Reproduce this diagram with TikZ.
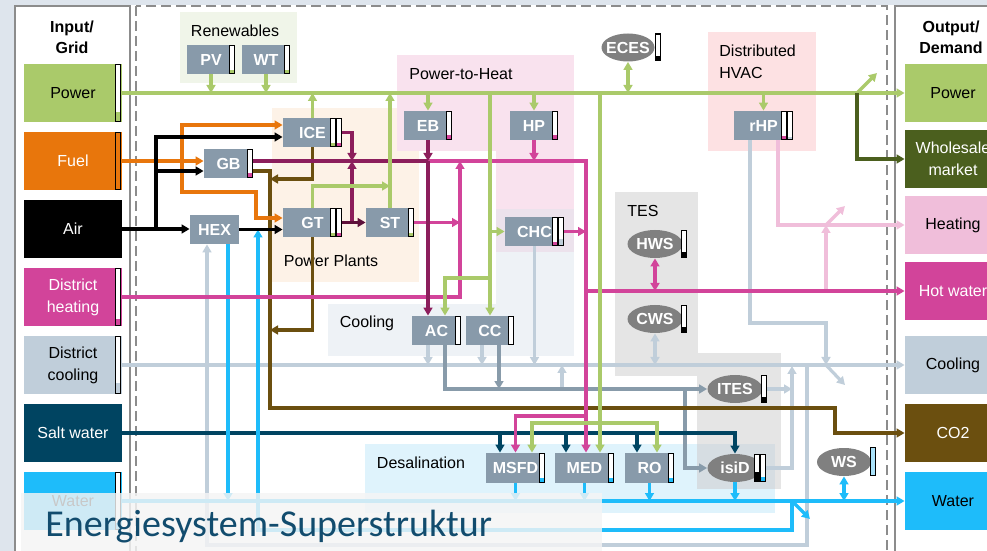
\documentclass[tikz,border=0pt]{standalone}
\usepackage{fontspec}
\setmainfont{Liberation Sans}
\newfontfamily\titlefont{Carlito}
\usetikzlibrary{arrows.meta,shapes.geometric}

\definecolor{cpage}{RGB}{222,229,237}
\definecolor{cframe}{RGB}{140,140,140}
\definecolor{cblk}{RGB}{136,154,170}
\definecolor{csto}{RGB}{128,128,128}
\definecolor{cgreen}{RGB}{170,202,106}
\definecolor{corange}{RGB}{232,118,12}
\definecolor{cmaroon}{RGB}{140,30,92}
\definecolor{cmaroond}{RGB}{94,16,58}
\definecolor{cpink}{RGB}{210,68,154}
\definecolor{clpink}{RGB}{240,190,218}
\definecolor{ccool}{RGB}{192,206,218}
\definecolor{cslate}{RGB}{136,155,170}
\definecolor{cbrown}{RGB}{107,79,15}
\definecolor{csalt}{RGB}{0,68,97}
\definecolor{cwater}{RGB}{30,188,250}
\definecolor{cwhole}{RGB}{75,95,30}
\definecolor{cwsbar}{RGB}{170,226,250}
\definecolor{ctitle}{RGB}{18,76,110}
\definecolor{grenew}{RGB}{240,245,233}
\definecolor{gplant}{RGB}{253,242,231}
\definecolor{gptoh}{RGB}{249,226,238}
\definecolor{gmix}{RGB}{236,226,236}
\definecolor{gcool}{RGB}{238,242,246}
\definecolor{gtes}{RGB}{229,229,229}
\definecolor{gdesal}{RGB}{223,243,252}
\definecolor{gover}{RGB}{214,221,226}
\definecolor{ghvac}{RGB}{253,225,227}

\tikzset{
  blk/.style={fill=cblk, text=white, inner sep=0pt, minimum height=14.5pt,
    font=\bfseries\fontsize{8}{10}\selectfont},
  sto/.style={ellipse, fill=csto, text=white, inner ysep=0pt, inner xsep=-3pt,
    minimum width=27.5pt, minimum height=14pt,
    font=\bfseries\fontsize{8}{10}\selectfont},
  lvl/.style 2 args={draw=black, line width=0.6pt, fill=white, inner sep=0pt,
    minimum width=2.4pt, minimum height=13.9pt,
    path picture={\fill[#1] (path picture bounding box.south west)
      rectangle ([yshift=#2]path picture bounding box.south east);}},
  iobox/.style={inner sep=0pt, minimum width=49pt, minimum height=29pt,
    align=center, font=\fontsize{8}{11}\selectfont},
  grplbl/.style={inner sep=0pt, font=\fontsize{8}{11}\selectfont},
  iotitle/.style={align=center, inner sep=0pt, font=\bfseries\fontsize{8}{10.5}\selectfont},
}

\begin{document}
\begin{tikzpicture}[x=0.5pt,y=-0.5pt,>={Triangle[length=4pt,width=4.4pt]}]
\useasboundingbox (0,0) rectangle (987,551);
\fill[cpage] (0,0) rectangle (987,551);
\fill[white] (14,5) rectangle (987,551);

\fill[grenew] (180,12) rectangle (297,83);
\fill[gplant] (272,108) rectangle (419,282);
\fill[gptoh] (397,55) rectangle (574,151);
\fill[gptoh] (496,151) rectangle (574,209);
\fill[gmix] (496,209) rectangle (574,252);
\fill[gcool] (496,252) rectangle (574,304);
\fill[gcool] (328,304) rectangle (574,356);
\fill[gtes] (615,192) rectangle (698,376);
\fill[gdesal] (365,444) rectangle (775,513);
\fill[gtes] (697,353) rectangle (781,444);
\fill[gover] (697,444) rectangle (775,489);
\fill[gtes] (775,444) rectangle (781,489);
\fill[ghvac] (708,32) rectangle (816,151);

\draw[cframe, line width=1pt] (15,6) rectangle (130,570);
\draw[cframe, line width=1pt] (895,6) rectangle (1010,570);
\draw[cframe, line width=1pt, dash pattern=on 5pt off 2.5pt] (136,6) rectangle (887,570);

\node[iotitle] (intitle) at (72,37) {Input/\\Grid};
\node[iotitle] (outtitle) at (951,37) {Output/\\Demand};

\begin{scope}[every node/.style={iobox}]
\node[fill=cgreen] (inpow) at (73,93) {Power};
\node[fill=corange, text=white] (infuel) at (73,161) {Fuel};
\node[fill=black, text=white] (inair) at (73,229) {Air};
\node[fill=cpink, text=white] (indh) at (73,297) {District\\heating};
\node[fill=ccool] (indc) at (73,365) {District\\cooling};
\node[fill=csalt, text=white] (insalt) at (73,433) {Salt water};
\node[fill=cwater] (inwater) at (73,501) {Water};
\end{scope}

\begin{scope}[every node/.style={iobox, minimum width=48pt}]
\node[fill=cgreen] (outpow) at (953,93) {Power};
\node[fill=cwhole, text=white] (outws) at (953,159) {Wholesale\\market};
\node[fill=clpink] (outheat) at (953,225) {Heating};
\node[fill=cpink, text=white] (outhw) at (953,291) {Hot water};
\node[fill=ccool] (outcool) at (953,365) {Cooling};
\node[fill=cbrown, text=white] (outco2) at (953,433) {CO2};
\node[fill=cwater] (outwater) at (953,501) {Water};
\end{scope}

\node[lvl={cgreen}{4.5pt}, minimum height=28.4pt] (inpowl) at (118,93) {};
\node[lvl={corange}{29pt}, minimum height=28.4pt] (infuell) at (118,161) {};
\node[lvl={cpink}{3pt}, minimum height=28.4pt] (indhl) at (118,297) {};
\node[lvl={ccool}{5pt}, minimum height=28.4pt] (indcl) at (118,365) {};
\node[lvl={cwater}{3pt}, minimum height=28.4pt] (inwaterl) at (118,501) {};

\begin{scope}[every node/.style={grplbl}]
\node (lrenew) at (235,31) {Renewables};
\node (lplant) at (331,261) {Power Plants};
\node (lptoh) at (461,74) {Power-to-Heat};
\node (lcool) at (367,323) {Cooling};
\node[anchor=west] (ltes) at (627,211) {TES};
\node (ldesal) at (421,463) {Desalination};
\node[anchor=north west, align=left] (lhvac) at (719,45) {Distributed\\HVAC};
\end{scope}

\begin{scope}[every node/.style={blk}]
\node[minimum width=24pt] (pv) at (211,59.5) {PV};
\node[minimum width=24pt] (wt) at (266,59.5) {WT};
\node[minimum width=29.5pt] (ice) at (312.5,132.5) {ICE};
\node[minimum width=29.5pt] (gt) at (312.5,222.5) {GT};
\node[minimum width=24.5pt] (gb) at (228.5,163.5) {GB};
\node[minimum width=24.5pt] (hex) at (214.5,229.5) {HEX};
\node[minimum width=24pt] (st) at (390,222.5) {ST};
\node[minimum width=24pt] (eb) at (428,125.5) {EB};
\node[minimum width=24pt] (hp) at (534,125.5) {HP};
\node[minimum width=29.5pt] (chc) at (534.5,231.5) {CHC};
\node[minimum width=24.5pt] (ac) at (436.5,330.5) {AC};
\node[minimum width=24pt] (cc) at (490,330.5) {CC};
\node[minimum width=29.5pt] (rhp) at (763.5,125.5) {rHP};
\node[minimum width=29.5pt, minimum height=15pt] (msfd) at (515.5,468) {MSFD};
\node[minimum width=29.5pt, minimum height=15pt] (med) at (584.5,468) {MED};
\node[minimum width=24.5pt, minimum height=15pt] (ro) at (649.5,468) {RO};
\end{scope}

\begin{scope}[every node/.style={sto}]
\node[minimum width=26.5pt] (eces) at (628,47.5) {ECES};
\node (hws) at (655,244) {HWS};
\node (cws) at (655,319) {CWS};
\node (ites) at (735,389) {ITES};
\node (isid) at (735,468) {isiD};
\node[minimum width=27pt] (ws) at (844,462) {WS};
\end{scope}

\node[lvl={cgreen}{1.5pt}] (pvl) at (232,59.5) {};
\node[lvl={cgreen}{1.5pt}] (wtl) at (287,59.5) {};
\node[lvl={cgreen}{1.5pt}] (icel1) at (333,132.5) {};
\node[lvl={cpink}{1.5pt}] (icel2) at (339,132.5) {};
\node[lvl={cgreen}{1.5pt}] (gtl1) at (333,222.5) {};
\node[lvl={cpink}{1.5pt}] (gtl2) at (339,222.5) {};
\node[lvl={cpink}{2pt}] (gbl) at (250,163.5) {};
\node[lvl={cgreen}{1.5pt}] (stl) at (411,222.5) {};
\node[lvl={cpink}{2pt}] (ebl) at (449,125.5) {};
\node[lvl={cpink}{2pt}] (hpl) at (555,125.5) {};
\node[lvl={cpink}{1.5pt}] (chcl1) at (555,231.5) {};
\node[lvl={ccool}{3pt}] (chcl2) at (561,231.5) {};
\node[lvl={white}{0pt}] (acl) at (458,330.5) {};
\node[lvl={white}{0pt}] (ccl) at (511,330.5) {};
\node[lvl={cpink}{1.5pt}] (rhpl1) at (784,125.5) {};
\node[lvl={ccool}{1pt}] (rhpl2) at (790,125.5) {};
\node[lvl={cwater}{2pt}, minimum height=14.4pt] (msfdl) at (542,468) {};
\node[lvl={cwater}{2pt}, minimum height=14.4pt] (medl) at (611,468) {};
\node[lvl={cwater}{2pt}, minimum height=14.4pt] (rol) at (671,468) {};
\node[lvl={black}{2.5pt}, minimum height=13.4pt] (ecesl) at (658,47.5) {};
\node[lvl={black}{2.5pt}, minimum height=13.4pt] (hwsl) at (684,244) {};
\node[lvl={black}{2.5pt}, minimum height=13.4pt] (cwsl) at (684,319) {};
\node[lvl={black}{2.5pt}, minimum height=13.4pt] (itesl) at (764,389) {};
\node[lvl={black}{4.5pt}, minimum height=13.4pt] (isidl1) at (757,468) {};
\node[lvl={cwater}{2pt}, minimum height=13.4pt] (isidl2) at (763,468) {};
\node[lvl={cwsbar}{15pt}, minimum height=13.9pt] (wsl) at (873,461.5) {};

\coordinate (stj) at (390,186);
\coordinate (gcc) at (490,93);
\coordinate (gac) at (490,278);
\coordinate (gds) at (600,93);
\coordinate (gdb) at (600,423);
\coordinate (hj) at (428,161);
\coordinate (hk) at (352,161);
\coordinate (hd) at (460,161);
\coordinate (hr) at (586,161);
\coordinate (hm) at (586,416);
\coordinate (hh) at (586,291);
\coordinate (lj) at (826,291);
\coordinate (lx) at (845,206);
\coordinate (wj) at (857,93);
\coordinate (px) at (877,73);
\coordinate (cb) at (270,408);
\coordinate (cr) at (835,408);
\coordinate (ci) at (270,179);
\coordinate (cg) at (270,330);
\coordinate (fj) at (182,161);
\coordinate (fk) at (256,192);
\coordinate (aj) at (156,229);
\coordinate (cu) at (562,389);
\coordinate (ck) at (826,323);
\coordinate (cx) at (845,385);
\coordinate (ce) at (792,366);
\coordinate (cs) at (807,366);
\coordinate (cs2) at (807,545);
\coordinate (dk) at (685,389);
\coordinate (aw) at (792,501);
\coordinate (wr) at (792,530);
\coordinate (wg) at (258,229.5);
\coordinate (wx) at (810,519);

\begin{scope}[ccool, line width=1.6pt]
\draw[->] (indc.east) -- (outcool.west);
\draw[->] ([xshift=-4.25pt]ac.south) -- ([xshift=-4.25pt]ac.south |- indc.east);
\draw[->] ([xshift=-4pt]cc.south) -- ([xshift=-4pt]cc.south |- indc.east);
\draw[->] (chc.south) -- (chc.south |- indc.east);
\draw[->] (cu) -- (cu |- indc.east);
\draw[<->] (cws.south) -- (cws.south |- indc.east);
\draw[->] ([xshift=-6.75pt]rhp.south) |- (ck) -- (ck |- indc.east);
\draw[->] (ck |- indc.east) -- (cx);
\draw[->] (itesl.east) -- (itesl.east -| ce);
\draw[->] (isidl2.east) -| (ce);
\draw[->] (cs) -- (cs2) -| ([xshift=-3.75pt]hex.south);
\end{scope}

\begin{scope}[cslate, line width=1.6pt]
\draw[->] ([xshift=4.25pt]ac.south) |- (ites.west);
\draw[->] ([xshift=4.5pt]cc.south) -- ([xshift=4.5pt]cc.south |- ites.west);
\draw[->] (dk) |- (isid.west);
\end{scope}

\begin{scope}[cbrown, line width=1.6pt]
\draw[->] ([yshift=-3.75pt]gb.east) -| (cb) -- (cr) |- (outco2.west);
\draw[->] (ice.south) |- (ci);
\draw[->] (gt.south) |- (cg);
\end{scope}

\begin{scope}[csalt, line width=1.6pt]
\draw[->] (insalt.east) -| (isid.north);
\draw[->] ([xshift=-7.75pt]msfd.north |- insalt.east) -- ([xshift=-7.75pt]msfd.north);
\draw[->] ([xshift=-9.25pt]med.north |- insalt.east) -- ([xshift=-9.25pt]med.north);
\draw[->] ([xshift=-6.25pt]ro.north |- insalt.east) -- ([xshift=-6.25pt]ro.north);
\end{scope}

\begin{scope}[cwater, line width=1.6pt]
\draw[->] (inwater.east) -- (outwater.west);
\draw[->] (msfd.south) -- (msfd.south |- inwater.east);
\draw[->] (med.south) -- (med.south |- inwater.east);
\draw[->] (ro.south) -- (ro.south |- inwater.east);
\draw[->] (isid.south) -- (isid.south |- inwater.east);
\draw[<->] (ws.south) -- (ws.south |- inwater.east);
\draw[->] ([xshift=6.75pt]hex.south) -- ([xshift=6.75pt]hex.south |- inwater.east);
\draw[->] (aw) -- (wr) -| (wg);
\draw[->] (aw) -- (wx);
\end{scope}

\begin{scope}[clpink, line width=1.6pt]
\draw[->] ([xshift=7.25pt]rhp.south) |- (outheat.west);
\draw[->] (lj) -- (lj |- outheat.west);
\draw[->] (lj |- outheat.west) -- (lx);
\end{scope}

\begin{scope}[cpink, line width=1.6pt]
\draw[->] (hj) -- (hr) -- (hr |- med.north);
\draw[->] (hm) -| (msfd.north);
\draw[->] (hh) -- (outhw.west);
\draw[<->] (hws.south) -- (hws.south |- outhw.west);
\draw[->] (hp.south) -- (hp.south |- hj);
\draw[->] (indh.east) -| (hd);
\draw[->] (stl.east) -- (stl.east -| hd);
\draw[->] (chcl2.east) -- (chcl2.east -| hr);
\end{scope}

\begin{scope}[cmaroon, line width=1.6pt]
\draw (gb.east |- hj) -- (hj);
\draw[->] (icel2.east) -| (hk);
\draw[->] (hk |- gt.east) -- (hk);
\draw[->] (eb.south) -- (hj);
\draw[->] (hj) -- (hj |- ac.north);
\draw[cmaroond, ->] (gtl2.east) -- (st.west);
\end{scope}

\begin{scope}[corange, line width=1.6pt]
\draw[->] (infuel.east) -- (infuel.east -| gb.west);
\draw[->] (fj) |- ([yshift=3.75pt]ice.west);
\draw[->] (fj) |- (fk) |- ([yshift=2.25pt]gt.west);
\end{scope}

\begin{scope}[black, line width=1.6pt]
\draw[->] (inair.east) -- (inair.east -| hex.west);
\draw[->] (aj) |- ([yshift=-2.25pt]ice.west);
\draw[->] (aj) |- ([yshift=-3.75pt]gb.west);
\draw[->] (hex.east) -- (hex.east -| gt.west);
\end{scope}

\begin{scope}[cgreen, line width=1.6pt]
\draw[->] (inpow.east) -- (outpow.west);
\draw[->] (pv.south) -- (pv.south |- inpow.east);
\draw[->] (wt.south) -- (wt.south |- inpow.east);
\draw[->] (ice.north) -- (ice.north |- inpow.east);
\draw[->] (st.north) -- (st.north |- inpow.east);
\draw[->] (gt.north) |- (stj);
\draw[->] (eb.north |- inpow.east) -- (eb.north);
\draw[->] (hp.north |- inpow.east) -- (hp.north);
\draw[->] (rhp.north |- inpow.east) -- (rhp.north);
\draw[<->] (eces.south) -- (eces.south |- inpow.east);
\draw[->] (gcc) -- (cc.north);
\draw[->] (gcc |- chc.west) -- (chc.west);
\draw[->] (gac) -| ([xshift=4.25pt]ac.north);
\draw[->] (gds) -- (gds |- med.north);
\draw[->] (gdb) -| ([xshift=8.25pt]msfd.north);
\draw[->] (gdb) -| ([xshift=3.75pt]ro.north);
\draw[->] (wj) -- (px);
\end{scope}

\draw[cwhole, line width=1.6pt, ->] (wj) |- (outws.west);

\fill[white!96!black, opacity=0.82] (21,493) rectangle (602,551);
\node[anchor=base west, inner sep=0pt, text=ctitle,
  font=\titlefont\fontsize{19}{22}\selectfont] (title) at (45,536) {Energiesystem-Superstruktur};
\end{tikzpicture}
\end{document}
